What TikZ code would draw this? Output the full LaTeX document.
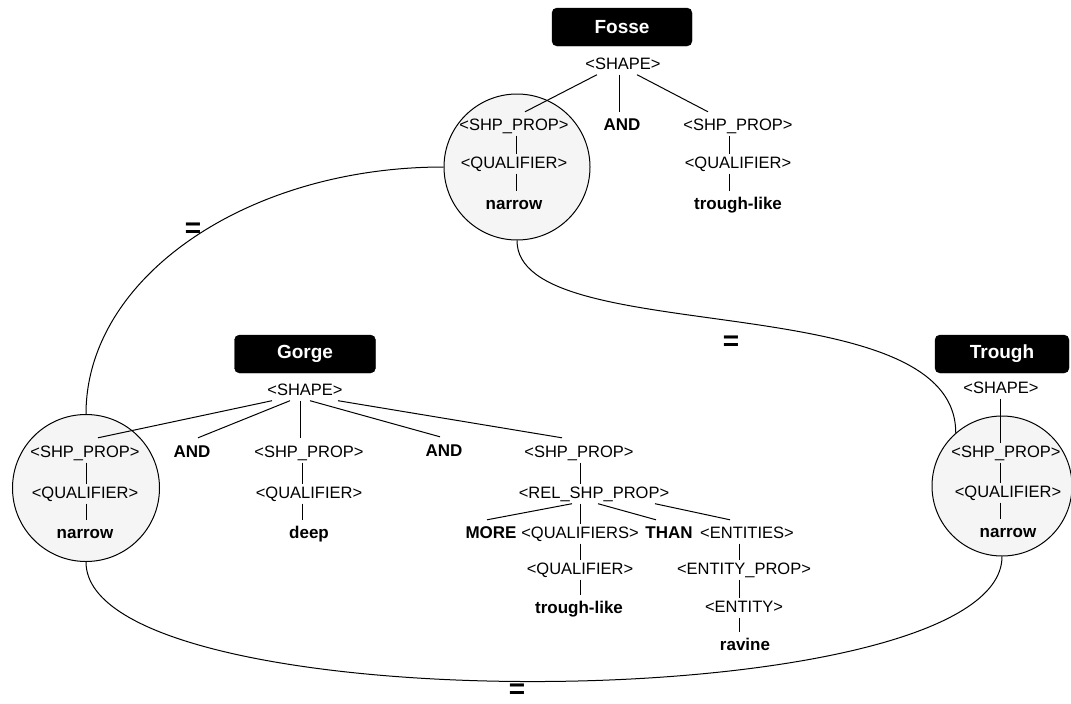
\documentclass[tikz,border=0pt]{standalone}
\usepackage{fontspec}
\setmainfont{Liberation Sans}
\usepackage{tikz}
\usetikzlibrary{positioning, calc}
\definecolor{CircleFill}{HTML}{F5F5F5}
\definecolor{TitleBlack}{HTML}{000000}
\tikzset{
  % Box styles
  titlebox/.style={rectangle, rounded corners=5pt, draw=TitleBlack, fill=TitleBlack, text=white, minimum width=140pt, minimum height=38pt, font=\fontsize{19}{22}\selectfont\bfseries},
  propcircle/.style={circle, draw, line width=1pt, fill=CircleFill, inner sep=0pt},
  % Label styles
  ntlabel/.style={anchor=base, inner sep=2pt, text height=12pt, text depth=3.5pt, font=\fontsize{16.5}{19}\selectfont},
  termlabel/.style={ntlabel, font=\fontsize{17}{20}\selectfont\bfseries},
  eqlabel/.style={anchor=base, inner sep=0pt, text height=14pt, text depth=0pt, font=\fontsize{28}{30}\selectfont\bfseries},
  % Line styles
  treeline/.style={line width=1pt},
  linkcurve/.style={line width=1pt}
}

\begin{document}
\begin{tikzpicture}[x=1pt, y=-1pt]
  \useasboundingbox (0,0) rectangle (1071,704);

  % Shared property circles
  \node[propcircle, minimum size=146pt] (fcirc) at (517,167) {};
  \node[propcircle, minimum size=147pt] (gcirc) at (86,488) {};
  \node[propcircle, minimum size=140pt] (tcirc) at (1002,486) {};

  % Fosse
  \node[titlebox] (fbox) at (622,27) {Fosse};
  \node[ntlabel] (fshape) at (623,69) {<SHAPE>};
  \node[ntlabel] (fsp1) at (514,130) {<SHP\_PROP>};
  \node[ntlabel] (fq1) at (514,168) {<QUALIFIER>};
  \node[termlabel] (fv1) at (514,209) {narrow};
  \node[termlabel] (fand) at (622,130) {AND};
  \node[ntlabel] (fsp2) at (738,130) {<SHP\_PROP>};
  \node[ntlabel] (fq2) at (738,168) {<QUALIFIER>};
  \node[termlabel] (fv2) at (738,209) {trough-like};

  \draw[treeline] ([xshift=-26pt]fshape.south) -- ([xshift=11pt,yshift=4pt]fsp1.north);
  \draw[treeline] ([xshift=-4pt]fshape.south) -- ([xshift=-3pt,yshift=4pt]fand.north);
  \draw[treeline] ([xshift=14pt]fshape.south) -- ([xshift=-30pt,yshift=4pt]fsp2.north);
  \draw[treeline] ([xshift=2pt]fsp1.south) -- ([xshift=2pt]fq1.north);
  \draw[treeline] ([xshift=2pt]fq1.south) -- ([xshift=2pt,yshift=4pt]fv1.north);
  \draw[treeline] ([xshift=-9pt]fsp2.south) -- ([xshift=-9pt]fq2.north);
  \draw[treeline] ([xshift=-9pt]fq2.south) -- ([xshift=-9pt,yshift=4pt]fv2.north);

  % Gorge
  \node[titlebox, minimum width=141pt] (gbox) at (305,354) {Gorge};
  \node[ntlabel] (gshape) at (305,395) {<SHAPE>};
  \node[ntlabel] (gsp1) at (85,457) {<SHP\_PROP>};
  \node[ntlabel] (gq1) at (85,498) {<QUALIFIER>};
  \node[termlabel] (gv1) at (85,538) {narrow};
  \node[termlabel] (gand1) at (192,457) {AND};
  \node[ntlabel] (gsp2) at (309,457) {<SHP\_PROP>};
  \node[ntlabel] (gq2) at (309,498) {<QUALIFIER>};
  \node[termlabel] (gv2) at (309,538) {deep};
  \node[termlabel] (gand2) at (444,456) {AND};
  \node[ntlabel] (gsp3) at (579,457) {<SHP\_PROP>};
  \node[ntlabel] (grel) at (594,498) {<REL\_SHP\_PROP>};
  \node[termlabel] (gmore) at (491,538) {MORE};
  \node[ntlabel] (gqs) at (580,538) {<QUALIFIERS>};
  \node[termlabel] (gthan) at (669,538) {THAN};
  \node[ntlabel] (gents) at (747,538) {<ENTITIES>};
  \node[ntlabel] (gq3) at (580,574) {<QUALIFIER>};
  \node[termlabel] (gv3) at (579,613) {trough-like};
  \node[ntlabel] (gentp) at (744,574) {<ENTITY\_PROP>};
  \node[ntlabel] (gent) at (744,612) {<ENTITY>};
  \node[termlabel] (grav) at (745,650) {ravine};

  \draw[treeline] ([xshift=-33pt]gshape.south) -- ([xshift=13pt,yshift=5pt]gsp1.north);
  \draw[treeline] ([xshift=-15pt]gshape.south) -- ([xshift=6pt,yshift=5pt]gand1.north);
  \draw[treeline] ([xshift=-5pt]gshape.south) -- ([xshift=-9pt,yshift=5pt]gsp2.north);
  \draw[treeline] ([xshift=5pt]gshape.south) -- ([xshift=-4pt,yshift=5pt]gand2.north);
  \draw[treeline] ([xshift=33pt]gshape.south) -- ([xshift=-17pt,yshift=5pt]gsp3.north);
  \draw[treeline] ([xshift=1pt]gsp1.south) -- ([xshift=1pt]gq1.north);
  \draw[treeline] ([xshift=1pt]gq1.south) -- ([xshift=1pt,yshift=4pt]gv1.north);
  \draw[treeline] ([xshift=-7pt]gsp2.south) -- ([xshift=-7pt]gq2.north);
  \draw[treeline] ([xshift=-7pt]gq2.south) -- ([xshift=-7pt,yshift=4pt]gv2.north);
  \draw[treeline] ([xshift=1pt]gsp3.south) -- ([xshift=-14pt]grel.north);
  \draw[treeline] ([xshift=-22pt]grel.south) -- ([xshift=-4pt,yshift=4pt]gmore.north);
  \draw[treeline] ([xshift=-14pt]grel.south) -- (gqs.north);
  \draw[treeline] ([xshift=4pt]grel.south) -- ([xshift=-13pt,yshift=4pt]gthan.north);
  \draw[treeline] ([xshift=61pt]grel.south) -- ([xshift=-17pt,yshift=4pt]gents.north);
  \draw[treeline] (gqs.south) -- (gq3.north);
  \draw[treeline] (gq3.south) -- ([xshift=1pt,yshift=4pt]gv3.north);
  \draw[treeline] ([xshift=-8pt]gents.south) -- ([xshift=-5pt]gentp.north);
  \draw[treeline] ([xshift=-5pt]gentp.south) -- ([xshift=-5pt]gent.north);
  \draw[treeline] ([xshift=-5pt]gent.south) -- ([xshift=-6pt,yshift=4pt]grav.north);

  % Trough
  \node[titlebox, minimum width=134pt] (tbox) at (1002,354) {Trough};
  \node[ntlabel] (tshape) at (1001,393) {<SHAPE>};
  \node[ntlabel] (tsp) at (1006,457) {<SHP\_PROP>};
  \node[ntlabel] (tq) at (1008,497) {<QUALIFIER>};
  \node[termlabel] (tv) at (1008,537) {narrow};

  \draw[treeline] ([xshift=-1pt]tshape.south) -- ([xshift=-6pt]tsp.north);
  \draw[treeline] ([xshift=-6pt]tsp.south) -- ([xshift=-8pt]tq.north);
  \draw[treeline] ([xshift=-8pt]tq.south) -- ([xshift=-8pt,yshift=4pt]tv.north);

  % Equalities between shared properties
  \draw[linkcurve] (fcirc.west) to[out=180, in=90, out distance=196pt, in distance=137pt] (gcirc.north);
  \draw[linkcurve] (fcirc.south) to[out=-90, in=90, out distance=110pt, in distance=150pt] (tcirc.131);
  \draw[linkcurve] (gcirc.south) to[out=-90, in=-90, out distance=163pt, in distance=163pt] (tcirc.south);

  \node[eqlabel] (eqtop) at (193,237) {=};
  \node[eqlabel] (eqmid) at (731,350) {=};
  \node[eqlabel] (eqbot) at (517,698) {=};
\end{tikzpicture}
\end{document}
